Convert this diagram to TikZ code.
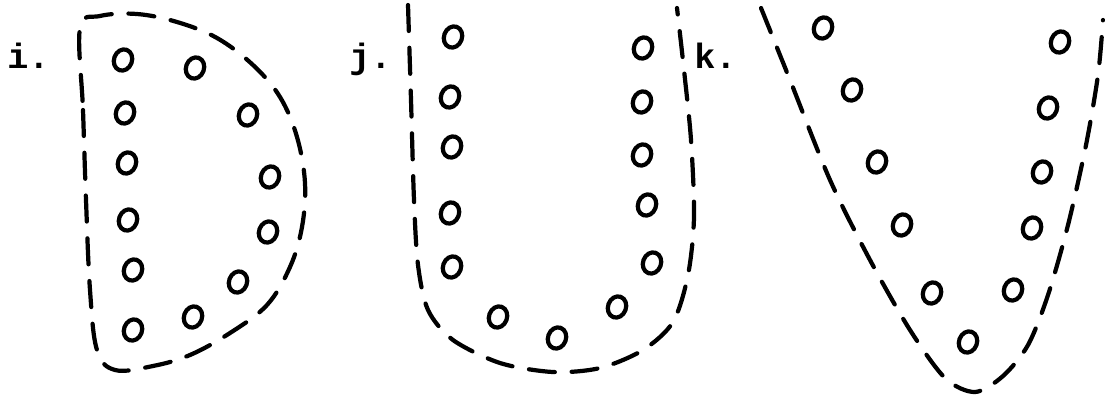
\documentclass[tikz,border=0pt]{standalone}
\usepackage{fontspec}
\setmonofont{Liberation Mono}
\usetikzlibrary{shapes.geometric}
\tikzset{
  bead/.style={draw,ellipse,line width=3pt,inner sep=0pt,
               minimum width=4.5mm,minimum height=5.4mm,rotate=-20},
  rim/.style={line width=3pt,dash pattern=on 6.5mm off 4.2mm,line cap=round},
  tag/.style={font=\ttfamily\bfseries\fontsize{25}{25}\selectfont,
              anchor=base west,inner sep=0pt},
}
\begin{document}
\begin{tikzpicture}[x=0.25mm,y=-0.25mm]
  \useasboundingbox (0,0) rectangle (1105,399);
  % i. -- the D
  \node[tag] (tagi) at (7,68) {i.};
  \foreach \x/\y [count=\n] in {123/60,195/68,125/113,248/115,127/163,270/177,
                                128/220,268/232,133/270,238/282,133/330,193/317}
    \node[bead] (i\n) at (\x,\y) {};
  \draw[rim] plot[smooth cycle,tension=0.6] coordinates {(80,28) (83,110) (86,200)
    (90,290) (97,350) (115,370) (153,366) (190,355) (230,333) (267,305) (290,267)
    (302,227) (305,183) (297,137) (280,97) (253,65) (217,38) (177,22) (137,14) (100,16)};
  % j. -- the U
  \node[tag] (tagj) at (349,68) {j.};
  \foreach \x/\y [count=\n] in {453/37,450/97,452/147,450/213,452/267,498/317,
                                557/338,617/307,652/263,647/205,642/155,642/102,643/48}
    \node[bead] (j\n) at (\x,\y) {};
  \draw[rim] plot[smooth] coordinates {(408,5) (411,100) (414,200) (418,265) (428,310)
    (453,340) (500,363) (553,372) (600,368) (643,350) (673,322) (688,275) (694,217)
    (691,140) (684,70) (677,8)};
  % k. -- the V
  \node[tag] (tagk) at (694,68) {k.};
  \foreach \x/\y [count=\n] in {823/28,852/90,877/162,902/225,932/293,968/342,
                                1013/290,1032/228,1042/172,1048/108,1060/42}
    \node[bead] (k\n) at (\x,\y) {};
  \draw[rim] plot[smooth] coordinates {(761,8) (790,80) (830,180) (870,260) (910,330)
    (945,378) (975,392) (1003,376) (1028,345) (1048,295) (1068,225) (1086,145)
    (1098,75) (1103,20)};
\end{tikzpicture}
\end{document}
